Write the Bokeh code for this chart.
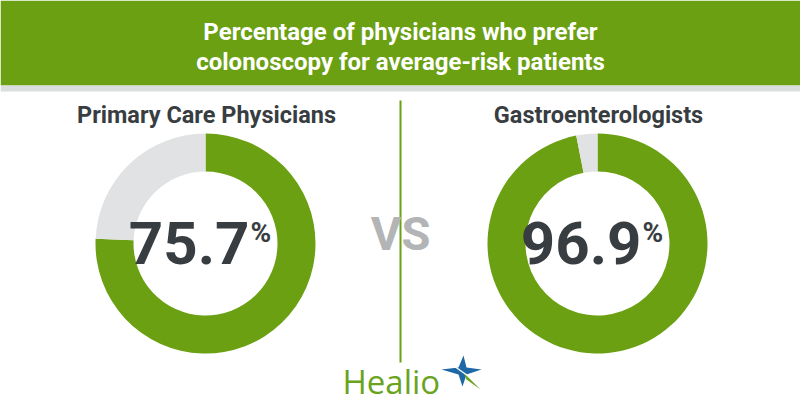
from bokeh.plotting import figure
from bokeh.models import Range1d
from bokeh.core.properties import value
from bokeh.embed import file_html
from bokeh.resources import INLINE

# ---- data ----
groups = ["Primary Care Physicians", "Gastroenterologists"]
prefer_pct = [75.7, 96.9]
title_lines = ["Percentage of physicians who prefer", "colonoscopy for average-risk patients"]

GREEN = "#6aa012"
GRAY = "#e1e2e3"
DARK = "#383d41"
W, H = 800, 420

p = figure(width=W, height=H, output_backend="svg", toolbar_location=None,
           x_range=Range1d(0, W), y_range=Range1d(0, H), min_border=0)
p.axis.visible = False
p.grid.visible = False
p.outline_line_color = None
p.background_fill_color = "white"
p.border_fill_color = "white"

def Y(v):
    return H - v

# header band
p.quad(left=0, right=W, bottom=Y(85), top=Y(0), fill_color=GREEN, line_color=None)
p.quad(left=0, right=W, bottom=Y(91), top=Y(85), fill_color="#dcdddd", line_color=None)
p.text(x=[W / 2, W / 2], y=[Y(31), Y(61)], text=title_lines, text_color="white",
       text_font=value("Roboto"), text_font_style="bold", text_font_size="24px",
       text_align="center", text_baseline="middle")

# divider and VS
p.segment(x0=[400], y0=[Y(100)], x1=[400], y1=[Y(362)], line_color=GREEN, line_width=2)
p.text(x=[400], y=[Y(233)], text=["VS"], text_color="#b3b4b5",
       text_font=value("Roboto"), text_font_style="bold", text_font_size="47px",
       text_align="center", text_baseline="middle")

centers_x = [205, 597]
cy = Y(243)
for cx, name, pct in zip(centers_x, groups, prefer_pct):
    frac = pct / 100.0
    # green: clockwise from top
    p.annular_wedge(x=cx, y=cy, inner_radius=72, outer_radius=110,
                    start_angle=90 - 360 * frac, end_angle=90, start_angle_units="deg",
                    end_angle_units="deg", fill_color=GREEN, line_color=None)
    p.annular_wedge(x=cx, y=cy, inner_radius=72, outer_radius=110,
                    start_angle=90, end_angle=90 + 360 * (1 - frac), start_angle_units="deg",
                    end_angle_units="deg", fill_color=GRAY, line_color=None)
    p.text(x=[cx + 1], y=[Y(114)], text=[name], text_color=DARK,
           text_font=value("Roboto"), text_font_style="bold", text_font_size="23.5px",
           text_align="center", text_baseline="middle")
    p.text(x=[cx + 44], y=[Y(242)], text=[f"{pct:.1f}"], text_color=DARK,
           text_font=value("Roboto"), text_font_style="bold", text_font_size="60px",
           text_align="right", text_baseline="middle")
    p.text(x=[cx + 45], y=[Y(232)], text=["%"], text_color=DARK,
           text_font=value("Roboto"), text_font_style="bold", text_font_size="28px",
           text_align="left", text_baseline="middle")

# Healio logo
p.text(x=[342], y=[Y(381)], text=["Healio"], text_color="#6aa41e",
       text_font=value("Open Sans"), text_font_size="33px",
       text_align="left", text_baseline="middle")
sx, sy = 462, Y(371)
p.patch(x=[sx - 21, sx - 4, sx + 1, sx + 4, sx + 19, sx + 4, sx, sx - 4],
        y=[sy + 2, sy + 4, sy + 16, sy + 4, sy + 2, sy - 3, sy - 15, sy - 3],
        fill_color="#1f68a8", line_color=None)
p.patch(x=[sx + 1, sx + 18, sx + 4], y=[sy - 1, sy - 18, sy - 8],
        fill_color="#6aa41e", line_color=None)
p.segment(x0=[sx - 15], y0=[sy + 10], x1=[sx + 15], y1=[sy - 11], line_color="white", line_width=1.4)

open("out.html", "w").write(file_html(p, INLINE))
